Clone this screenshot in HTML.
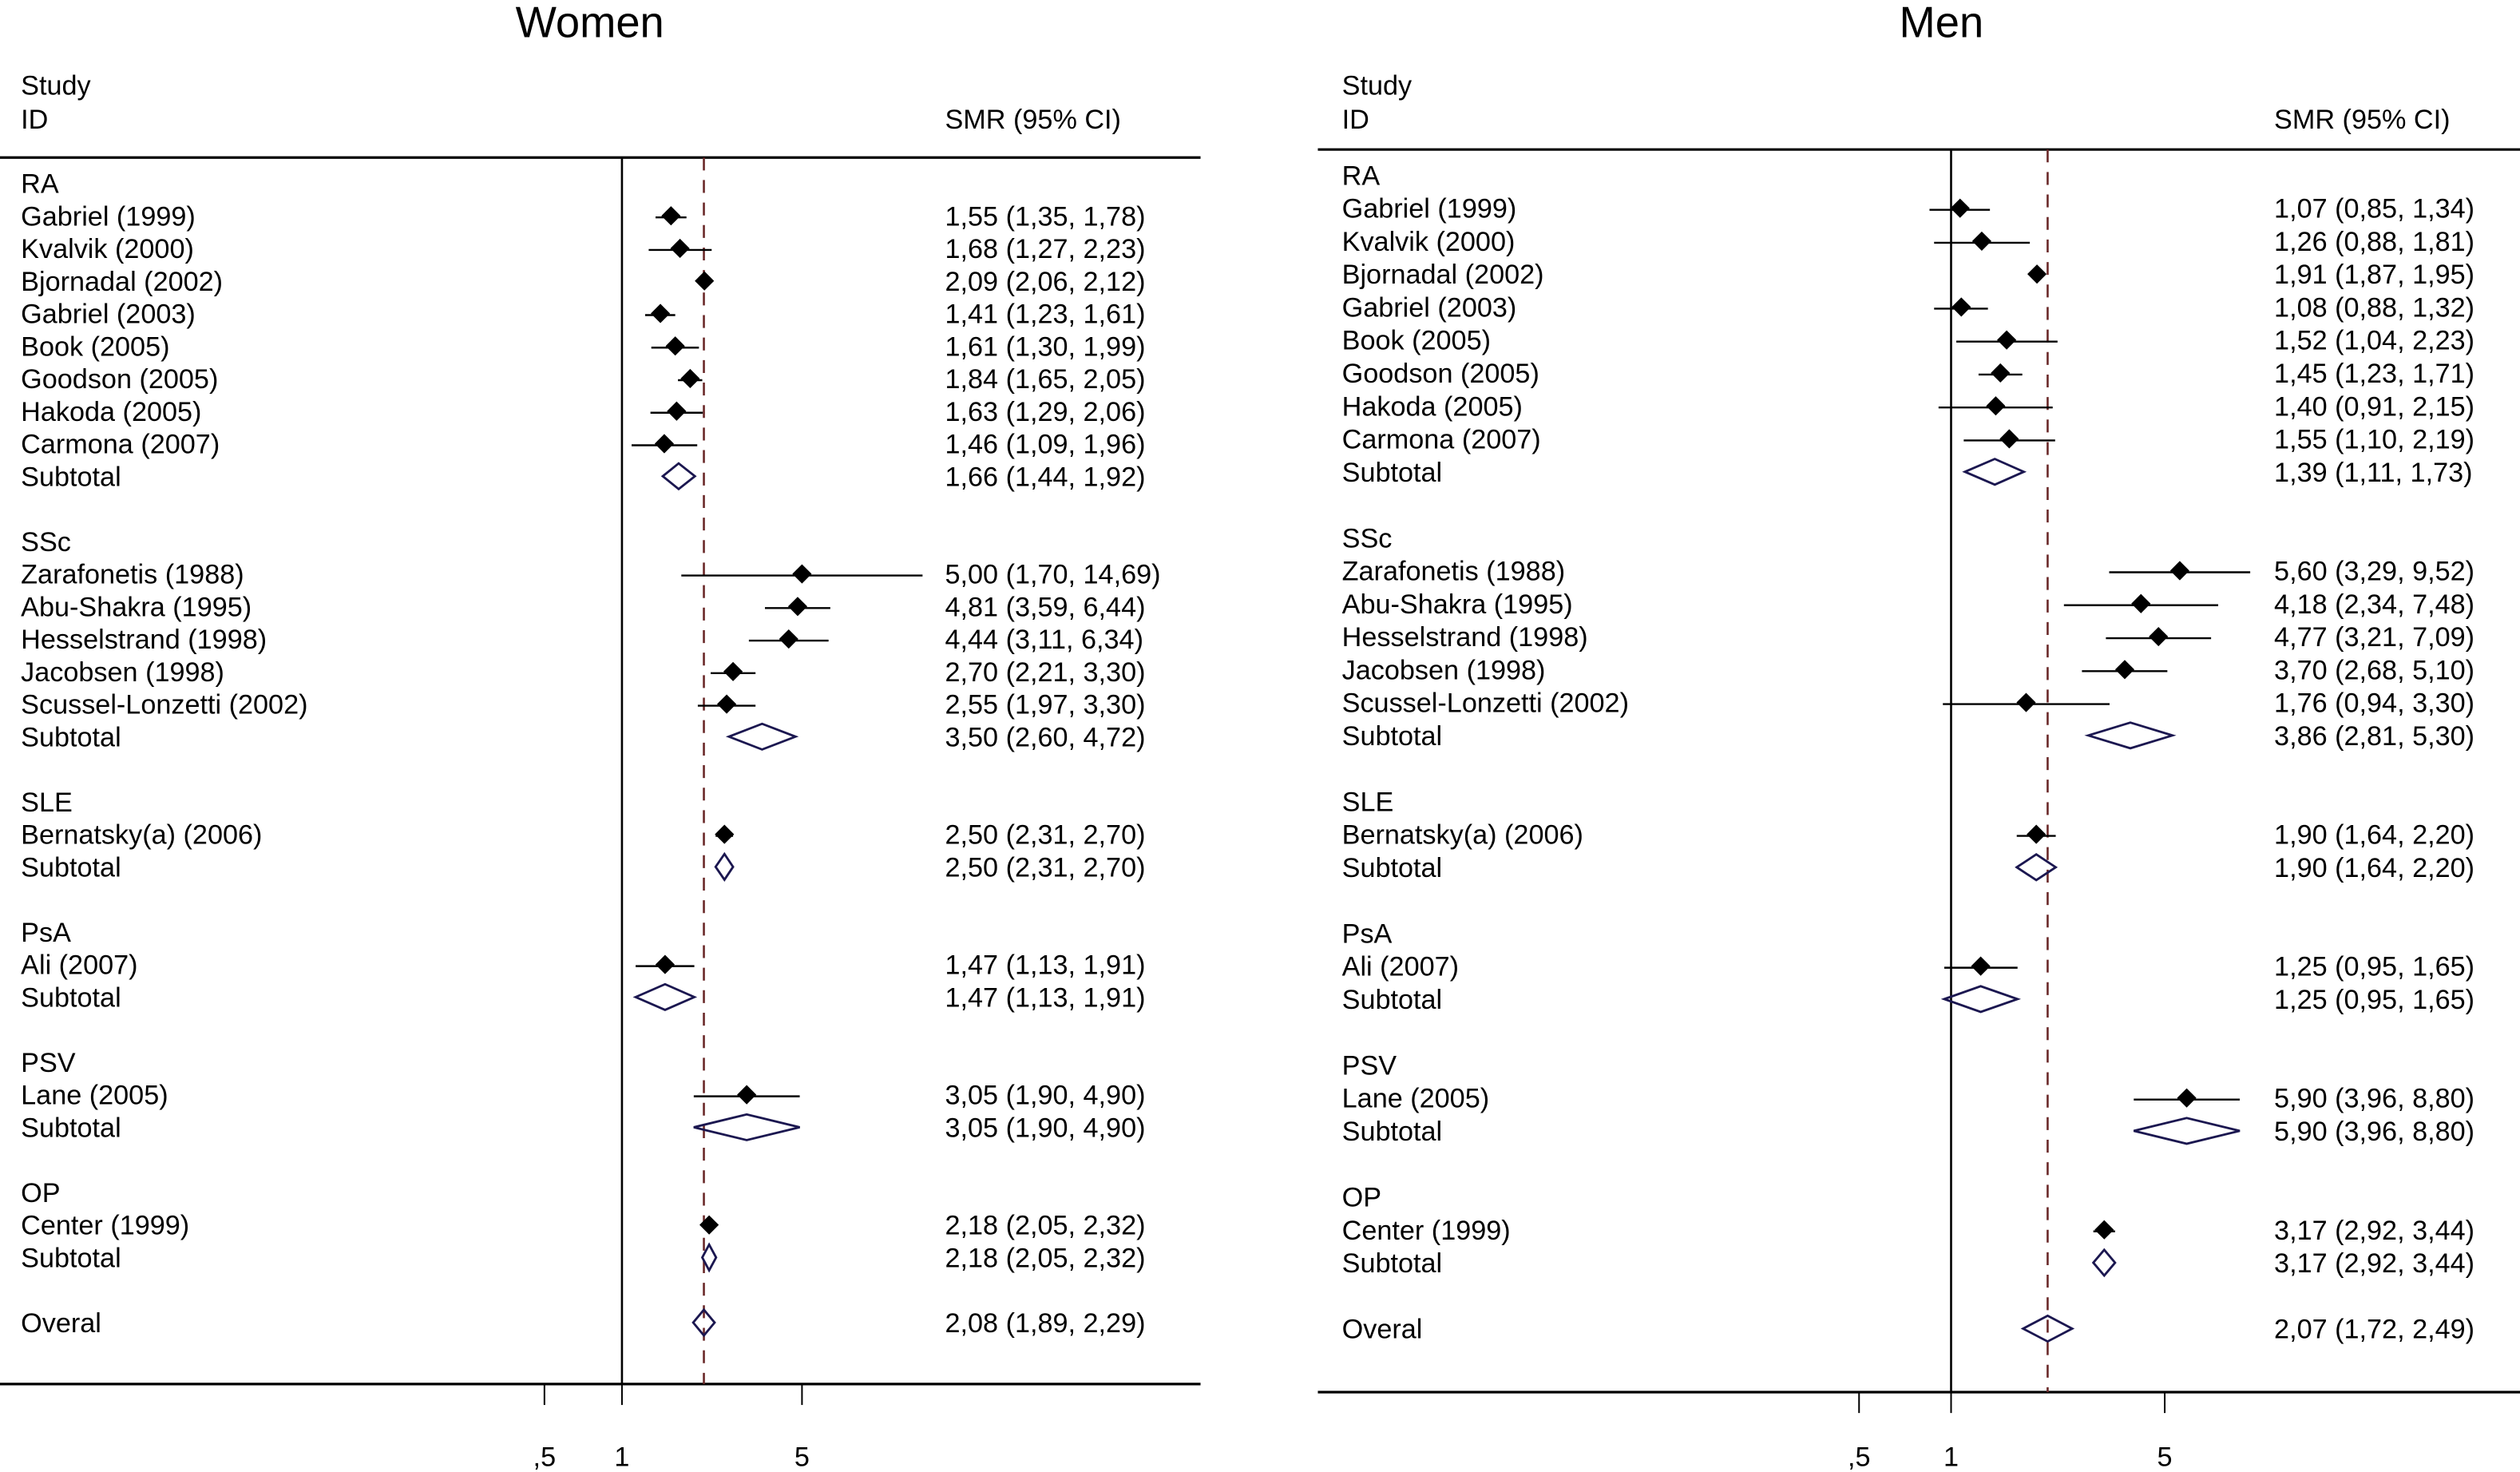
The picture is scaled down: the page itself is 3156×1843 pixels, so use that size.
<!DOCTYPE html>
<html><head><meta charset="utf-8"><style>
html,body{margin:0;padding:0;background:#fff}
svg{display:block}
text{font-family:"Liberation Sans",Arial,sans-serif;fill:#000}
</style></head><body>
<svg id="chart" width="3156" height="1843" viewBox="0 0 1568 915.7" preserveAspectRatio="none" xmlns="http://www.w3.org/2000/svg"></svg>
<script>
// ---- Women data ----
const womenLabels = ["RA","Gabriel (1999)","Kvalvik (2000)","Bjornadal (2002)","Gabriel (2003)","Book (2005)","Goodson (2005)","Hakoda (2005)","Carmona (2007)","Subtotal","",
"SSc","Zarafonetis (1988)","Abu-Shakra (1995)","Hesselstrand (1998)","Jacobsen (1998)","Scussel-Lonzetti (2002)","Subtotal","",
"SLE","Bernatsky(a) (2006)","Subtotal","",
"PsA","Ali (2007)","Subtotal","",
"PSV","Lane (2005)","Subtotal","",
"OP","Center (1999)","Subtotal","",
"Overal"];
const rowTypes = ["h","s","s","s","s","s","s","s","s","d","",
"h","s","s","s","s","s","d","",
"h","s","d","",
"h","s","d","",
"h","s","d","",
"h","s","d","",
"d"];
const womenEst = [null,1.55,1.68,2.09,1.41,1.61,1.84,1.63,1.46,1.66,null,null,5.00,4.81,4.44,2.70,2.55,3.50,null,null,2.50,2.50,null,null,1.47,1.47,null,null,3.05,3.05,null,null,2.18,2.18,null,2.08];
const womenLo  = [null,1.35,1.27,2.06,1.23,1.30,1.65,1.29,1.09,1.44,null,null,1.70,3.59,3.11,2.21,1.97,2.60,null,null,2.31,2.31,null,null,1.13,1.13,null,null,1.90,1.90,null,null,2.05,2.05,null,1.89];
const womenHi  = [null,1.78,2.23,2.12,1.61,1.99,2.05,2.06,1.96,1.92,null,null,14.69,6.44,6.34,3.30,3.30,4.72,null,null,2.70,2.70,null,null,1.91,1.91,null,null,4.90,4.90,null,null,2.32,2.32,null,2.29];
// ---- Men data ----
const menLabels = ["RA","Gabriel (1999)","Kvalvik (2000)","Bjornadal (2002)","Gabriel (2003)","Book (2005)","Goodson (2005)","Hakoda (2005)","Carmona (2007)","Subtotal","",
"SSc","Zarafonetis (1988)","Abu-Shakra (1995)","Hesselstrand (1998)","Jacobsen (1998)","Scussel-Lonzetti (2002)","Subtotal","",
"SLE","Bernatsky(a) (2006)","Subtotal","",
"PsA","Ali (2007)","Subtotal","",
"PSV","Lane (2005)","Subtotal","",
"OP","Center (1999)","Subtotal","",
"Overal"];
const menEst = [null,1.07,1.26,1.91,1.08,1.52,1.45,1.40,1.55,1.39,null,null,5.60,4.18,4.77,3.70,1.76,3.86,null,null,1.90,1.90,null,null,1.25,1.25,null,null,5.90,5.90,null,null,3.17,3.17,null,2.07];
const menLo  = [null,0.85,0.88,1.87,0.88,1.04,1.23,0.91,1.10,1.11,null,null,3.29,2.34,3.21,2.68,0.94,2.81,null,null,1.64,1.64,null,null,0.95,0.95,null,null,3.96,3.96,null,null,2.92,2.92,null,1.72];
const menHi  = [null,1.34,1.81,1.95,1.32,2.23,1.71,2.15,2.19,1.73,null,null,9.52,7.48,7.09,5.10,3.30,5.30,null,null,2.20,2.20,null,null,1.65,1.65,null,null,8.80,8.80,null,null,3.44,3.44,null,2.49];
const tickValues = [0.5,1,5];
const tickLabels = [",5","1","5"];

const NS="http://www.w3.org/2000/svg";
const svg=document.getElementById('chart');
const FS=17;
function mk(tag,attrs,parent){const e=document.createElementNS(NS,tag);for(const k in attrs)e.setAttribute(k,attrs[k]);(parent||svg).appendChild(e);return e;}
function fmt(v){return v.toFixed(2).replace('.',',');}

function panel(cfg,labels,est,lo,hi){
  const g=mk('g',{});
  
  
  const xs=v=>cfg.x1+Math.log(v)*cfg.k;
  const ys=i=>cfg.y0+i*cfg.dy;
  let t=mk('text',{x:cfg.titleX,y:cfg.titleY,'font-size':27,'text-anchor':'middle'},g);t.textContent=cfg.title;
  
  
  t=mk('text',{x:cfg.lx,y:cfg.hy1,'font-size':FS},g);t.textContent='Study';
  
  
  t=mk('text',{x:cfg.lx,y:cfg.hy2,'font-size':FS},g);t.textContent='ID';
  
  
  t=mk('text',{x:cfg.sx,y:cfg.hy2,'font-size':FS},g);t.textContent='SMR (95% CI)';
  
  
  let l=mk('line',{x1:cfg.left,x2:cfg.right,y1:cfg.top,y2:cfg.top,stroke:'#000','stroke-width':1.6},g);
  
  
  l=mk('line',{x1:cfg.left,x2:cfg.right,y1:cfg.bot,y2:cfg.bot,stroke:'#000','stroke-width':1.6},g);
  
  
  l=mk('line',{x1:xs(1),x2:xs(1),y1:cfg.top,y2:cfg.bot,stroke:'#000','stroke-width':1.3},g);
  
  
  const ov=est[est.length-1];
  l=mk('line',{x1:xs(ov),x2:xs(ov),y1:cfg.top,y2:cfg.bot,stroke:'#6b2a2a','stroke-width':1.3,'stroke-dasharray':'8,6'},g);
  
  
  tickValues.forEach((v,i)=>{
    const tk=mk('line',{x1:xs(v),x2:xs(v),y1:cfg.bot,y2:cfg.bot+13,stroke:'#000','stroke-width':1},g);
    
    
    const tl=mk('text',{x:xs(v),y:912,'font-size':FS,'text-anchor':'middle'},g);tl.textContent=tickLabels[i];
    
    
  });
  labels.forEach((lab,i)=>{
    const y=ys(i);
    if(lab){
      const tx=mk('text',{x:cfg.lx,y:y+6,'font-size':FS},g);tx.textContent=lab;
      
      
    }
    if(est[i]==null)return;
    const st=mk('text',{x:cfg.sx,y:y+6,'font-size':FS},g);st.textContent=fmt(est[i])+' ('+fmt(lo[i])+', '+fmt(hi[i])+')';
    
    
    const xe=xs(est[i]),xl=xs(lo[i]);let xh=xs(hi[i]);
    if(rowTypes[i]==='s'){
      const clip=xh>cfg.clipX;if(clip)xh=cfg.clipX;
      const ci=mk('line',{x1:xl,x2:xh,y1:y+1,y2:y+1,stroke:'#000','stroke-width':1.2},g);
      
      
      if(clip){
        const ar=mk('polygon',{points:`${xh+2},${y+1} ${xh-9},${y-4} ${xh-9},${y+6}`,fill:'#000'},g);
        
        
      }
      const m=mk('polygon',{points:`${xe},${y-6} ${xe+6},${y} ${xe},${y+6} ${xe-6},${y}`,fill:'#000'},g);
      
      
    } else {
      const d=mk('polygon',{points:`${xl},${y} ${xe},${y-8} ${xh},${y} ${xe},${y+8}`,fill:'none',stroke:'#1b1750','stroke-width':1.4},g);
      
      
    }
  });
}
panel({name:'women',title:'Women',titleX:367,titleY:23,lx:13,sx:588,hy1:59,hy2:80,top:98,bot:861,left:0,right:747,x1:387,k:69.6,y0:114,dy:20.25,clipX:575},womenLabels,womenEst,womenLo,womenHi);
panel({name:'men',title:'Men',titleX:1208,titleY:23,lx:835,sx:1415,hy1:59,hy2:80,top:93,bot:866,left:820,right:1568,x1:1214,k:82.6,y0:109,dy:20.5,clipX:1560},menLabels,menEst,menLo,menHi);
</script>
</body></html>
